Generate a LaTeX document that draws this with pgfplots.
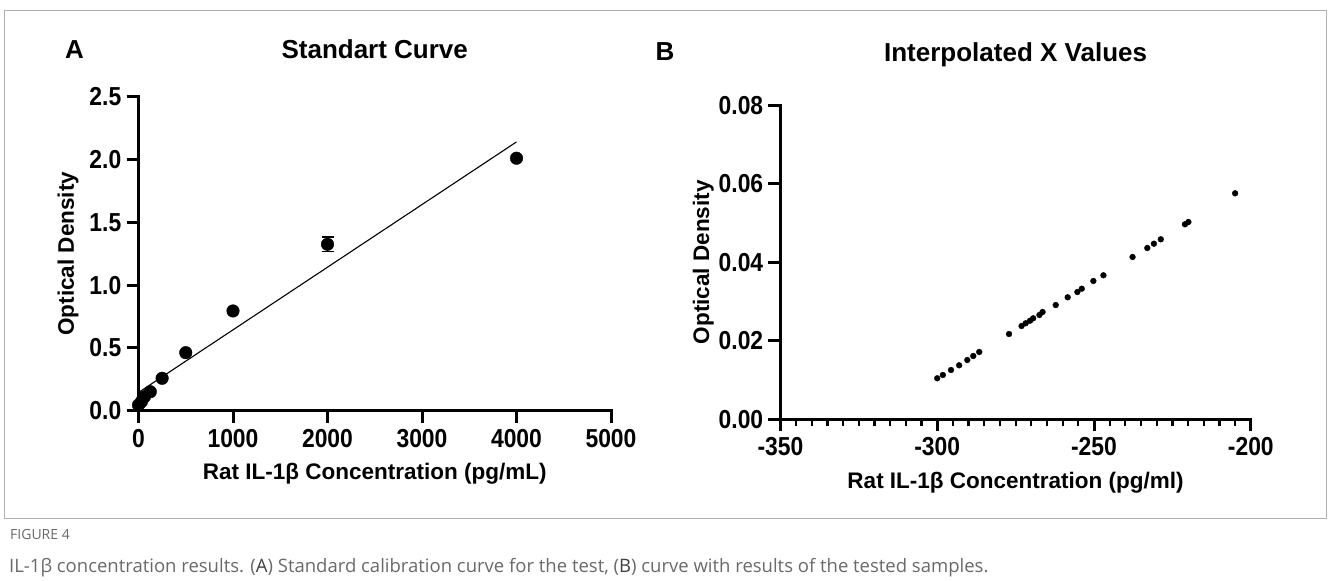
\documentclass[border=0pt]{standalone}
\usepackage{pgfplots}
\pgfplotsset{compat=1.18}
\usepackage{fontspec}
\setmainfont{Liberation Sans}
\newfontfamily\tickfont{Liberation Sans}[FakeStretch=0.88]
\newfontfamily\capfont{Open Sans}
\definecolor{capgray}{RGB}{105,105,105}
\definecolor{framegray}{RGB}{175,175,175}

\pgfplotsset{
  prism/.style={
    scale only axis, clip=false,
    axis x line*=bottom, axis y line*=left,
    axis line style={line width=3pt, line cap=rect},
    tick style={black, line width=3pt},
    minor tick style={line width=2.2pt},
    tick align=outside,
    major tick length=12pt, minor tick length=7pt,
    scaled ticks=false,
    tick label style={font=\tickfont\fontsize{26}{28}\selectfont\bfseries, inner sep=0pt},
    yticklabel style={xshift=-5pt},
    xticklabel style={yshift=-6pt},
    label style={font=\fontsize{22.5}{25}\selectfont\bfseries, inner sep=0pt},
    title style={font=\fontsize{26}{30}\selectfont\bfseries, inner sep=0pt},
    xlabel style={at={([yshift=-63pt]axis description cs:0.5,0)}, anchor=center},
  }
}

\begin{document}
\begin{tikzpicture}[x=1pt,y=1pt]
\useasboundingbox (0,0) rectangle (1328,581);
\draw[framegray, line width=1pt] (4,570) rectangle (1326,62);

% panel letters
\node[font=\fontsize{26}{30}\selectfont\bfseries] at (74.6,531.7) {A};
\node[font=\fontsize{26}{30}\selectfont\bfseries] at (665,529.3) {B};

% (A) standard curve
\begin{axis}[prism,
  at={(138.5pt,170.3pt)}, anchor=south west,
  width=472.5pt, height=314pt,
  xmin=0, xmax=5000, ymin=0, ymax=2.5,
  xtick={0,1000,2000,3000,4000,5000},
  xticklabels={0,1000,2000,3000,4000,5000},
  ytick={0,0.5,1,1.5,2,2.5},
  yticklabels={0.0,0.5,1.0,1.5,2.0,2.5},
  title={Standart Curve},
  title style={at={([yshift=41.4pt]axis description cs:0.5,1)}, anchor=center},
  xlabel={Rat IL-1β Concentration (pg/mL)},
  ylabel={Optical Density},
  ylabel style={at={([xshift=-70.5pt]axis description cs:0,0.5)}, anchor=center},
]
% linear fit
\addplot[black, line width=1.1pt] coordinates {(0,0.145) (4000,2.14)};
% standards (mean +- SD)
\addplot[black, only marks, mark=*, mark size=6.3pt,
  error bars/.cd, y dir=both, y explicit,
  error bar style={line width=1.6pt},
  error mark options={rotate=90, mark size=6pt, line width=1.6pt}]
  coordinates {
  (0,0.045) +- (0,0)
  (31.25,0.072) +- (0,0)
  (62.5,0.111) +- (0,0)
  (125,0.151) +- (0,0)
  (250,0.258) +- (0,0)
  (500,0.462) +- (0,0)
  (1000,0.794) +- (0,0)
  (2000,1.325) +- (0,0.058)
  (4000,2.01) +- (0,0)
  };
\end{axis}

% (B) interpolated values
\begin{axis}[prism,
  at={(780.4pt,161.7pt)}, anchor=south west,
  width=470.4pt, height=314pt,
  xmin=-350, xmax=-200, ymin=0, ymax=0.08,
  xtick={-350,-300,-250,-200},
  xticklabels={-350,-300,-250,-200},
  minor x tick num=9,
  ytick={0,0.02,0.04,0.06,0.08},
  yticklabels={0.00,0.02,0.04,0.06,0.08},
  title={Interpolated X Values},
  title style={at={([yshift=44.5pt]axis description cs:0.5,1)}, anchor=center},
  xlabel={Rat IL-1β Concentration (pg/ml)},
  ylabel={Optical Density},
  ylabel style={at={([xshift=-77pt]axis description cs:0,0.5)}, anchor=center},
]
\addplot[black, only marks, mark=*, mark size=2.9pt] coordinates {
  (-300.0,0.01045) (-298.2,0.01129) (-295.6,0.01256) (-293.0,0.01376)
  (-290.4,0.01511) (-288.5,0.01613) (-286.6,0.01715) (-277.1,0.02173)
  (-273.1,0.02377) (-271.8,0.02446) (-270.4,0.02512) (-269.4,0.02573)
  (-267.4,0.02657) (-266.4,0.02734) (-262.2,0.02912) (-258.4,0.03108)
  (-255.3,0.03243) (-253.9,0.03327) (-250.2,0.03524) (-247.0,0.03669)
  (-237.7,0.04135) (-233.0,0.04364) (-230.9,0.04474) (-228.7,0.04586)
  (-221.0,0.04968) (-219.9,0.05027) (-205.0,0.05758)
};
\end{axis}

% caption
\node[anchor=base west, text=capgray, inner sep=0pt, font=\capfont\fontsize{14}{16}\selectfont] at (10,41) {FIGURE 4};
\node[anchor=base west, text=capgray, inner sep=0pt, font=\capfont\fontsize{18.5}{21}\selectfont] at (9,9)
  {IL-1β concentration results. ({\color{black!75}A}) Standard calibration curve for the test, ({\color{black!75}B}) curve with results of the tested samples.};
\end{tikzpicture}
\end{document}
